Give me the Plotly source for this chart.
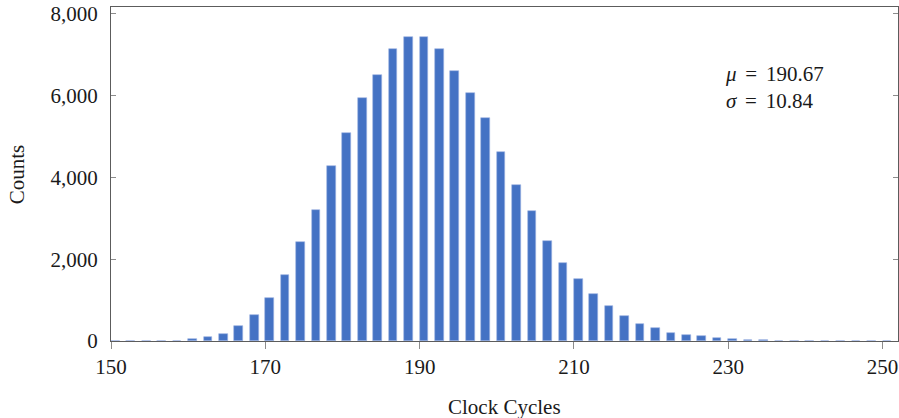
import plotly.graph_objects as go

clock_cycles = list(range(150, 252, 2))
counts = [0, 2, 0, 3, 8, 42, 88, 175, 360, 625, 1042, 1609, 2417, 3205, 4278, 5093,
          5935, 6513, 7143, 7447, 7447, 7135, 6604, 6058, 5460, 4613, 3823, 3170,
          2436, 1897, 1511, 1143, 850, 604, 426, 308, 205, 156, 112, 80, 49, 33, 15,
          6, 3, 2, 1, 1, 0, 0, 0]
counts = counts[:len(clock_cycles)]

x_ticks = [150, 170, 190, 210, 230, 250]
y_ticks = [0, 2000, 4000, 6000, 8000]
SP = " \u2006"
stats_text = f"<i>μ</i>{SP}={SP}190.67<br><i>σ</i>{SP}={SP}10.84"
x_title = "Clock Cycles"
y_title = "Counts"

FONT = "Liberation Serif"
TXT = "#1a1a1a"
FS = 21

fig = go.Figure()
fig.add_trace(go.Bar(
    x=clock_cycles, y=counts,
    width=1.12, offset=0,
    marker=dict(color="#4472C4", line=dict(color="#9db3e2", width=0.6)),
    showlegend=False,
))

fig.add_annotation(
    x=229.3, y=6210, xref="x", yref="y",
    text=stats_text, showarrow=False, xanchor="left", yanchor="middle",
    align="left", font=dict(family=FONT, size=FS, color=TXT),
)
fig.add_annotation(
    x=0.5, y=-0.198, xref="paper", yref="paper",
    text=x_title, showarrow=False, xanchor="center", yanchor="middle",
    font=dict(family=FONT, size=FS, color=TXT),
)
fig.add_annotation(
    x=-0.119, y=0.5, xref="paper", yref="paper",
    text=y_title, showarrow=False, xanchor="center", yanchor="middle", textangle=-90,
    font=dict(family=FONT, size=FS, color=TXT),
)

axis_common = dict(
    showline=True, linecolor="#5c5c5c", linewidth=1.3,
    showgrid=False, zeroline=False, automargin=False,
    tickfont=dict(family=FONT, size=FS, color=TXT),
    tickcolor="#8c8c8c", tickwidth=1,
)

fig.update_layout(
    width=899, height=418,
    margin=dict(l=111, r=1, t=7, b=77),
    plot_bgcolor="white", paper_bgcolor="white",
    bargap=0,
    xaxis=dict(
        range=[150, 252], tickvals=x_ticks, ticks="outside", ticklen=7, mirror=True,
        **axis_common,
    ),
    yaxis=dict(
        range=[0, 8170], tickvals=y_ticks, tickformat=",d", ticks="inside", ticklen=5,
        mirror="ticks", ticklabelstandoff=8,
        **axis_common,
    ),
)

fig.write_html(
    "out.html",
    config={"displayModeBar": False},
    post_script="document.body.style.margin='0';document.body.style.overflow='hidden';",
)
